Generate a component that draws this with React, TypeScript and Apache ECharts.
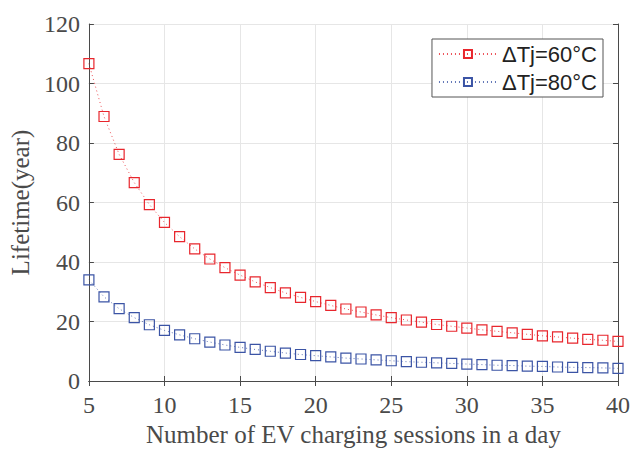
import React, { useEffect, useRef } from "react";
import * as echarts from "echarts";

const sessions = [5, 6, 7, 8, 9, 10, 11, 12, 13, 14, 15, 16, 17, 18, 19, 20, 21, 22, 23, 24, 25, 26, 27, 28, 29, 30, 31, 32, 33, 34, 35, 36, 37, 38, 39, 40];
const life60 = [106.7, 88.9, 76.2, 66.7, 59.3, 53.3, 48.5, 44.4, 41.0, 38.1, 35.6, 33.3, 31.4, 29.6, 28.1, 26.7, 25.4, 24.2, 23.2, 22.2, 21.3, 20.5, 19.8, 19.0, 18.4, 17.8, 17.2, 16.7, 16.2, 15.7, 15.2, 14.8, 14.4, 14.0, 13.7, 13.3];
const life80 = [34.0, 28.3, 24.3, 21.3, 18.9, 17.0, 15.5, 14.2, 13.1, 12.1, 11.3, 10.6, 10.0, 9.4, 8.9, 8.5, 8.1, 7.7, 7.4, 7.1, 6.8, 6.5, 6.3, 6.1, 5.9, 5.7, 5.5, 5.3, 5.2, 5.0, 4.9, 4.7, 4.6, 4.5, 4.4, 4.25];
const seriesNames = ["ΔTj=60°C", "ΔTj=80°C"];
const seriesColors = ["#e8262d", "#3b54a5"];

const serif = "'Liberation Serif', 'DejaVu Serif', serif";
const sans = "'Liberation Sans', Arial, sans-serif";
const axisColor = "#4a4a4a";
const labelColor = "#4a4a4a";

export default function App() {
  const ref = useRef<HTMLDivElement>(null);
  useEffect(() => {
    const chart = echarts.init(ref.current!, null, { renderer: "svg" });
    const data = [life60, life80];
    const axisCommon = {
      axisLine: { show: true, lineStyle: { color: axisColor, width: 1 } },
      axisTick: { show: true, inside: true, length: 5, lineStyle: { color: axisColor } },
    };
    chart.setOption({
      animation: false,
      backgroundColor: "#ffffff",
      grid: { left: 87, top: 24, right: 14, bottom: 68, containLabel: false },
      legend: {
        show: true,
        right: 30,
        top: 39,
        orient: "vertical",
        backgroundColor: "#ffffff",
        borderColor: "#555555",
        borderWidth: 1,
        padding: [4, 6, 4, 6],
        itemGap: 6,
        itemWidth: 58,
        itemHeight: 10,
        textStyle: { fontFamily: sans, fontSize: 22, color: "#222222", padding: [0, 0, 0, 0] },
        data: seriesNames,
      },
      xAxis: [
        {
          type: "value",
          min: 5,
          max: 40,
          interval: 5,
          name: "Number of EV charging sessions in a day",
          nameLocation: "middle",
          nameGap: 41,
          nameTextStyle: { fontFamily: serif, fontSize: 25, color: labelColor, verticalAlign: "top" },
          axisLabel: { fontFamily: serif, fontSize: 24, color: labelColor, margin: 12 },
          splitLine: { show: true, lineStyle: { color: "#e6e6e6", width: 1 } },
          ...axisCommon,
        },
        {
          type: "value",
          position: "top",
          min: 5,
          max: 40,
          interval: 5,
          axisLabel: { show: false },
          splitLine: { show: false },
          ...axisCommon,
        },
      ],
      yAxis: [
        {
          type: "value",
          min: 0,
          max: 120,
          interval: 20,
          name: "Lifetime(year)",
          nameLocation: "middle",
          nameGap: 52,
          nameTextStyle: { fontFamily: serif, fontSize: 25, color: labelColor },
          axisLabel: { fontFamily: serif, fontSize: 24, color: labelColor, margin: 9 },
          splitLine: { show: true, lineStyle: { color: "#e6e6e6", width: 1 } },
          ...axisCommon,
        },
        {
          type: "value",
          position: "right",
          min: 0,
          max: 120,
          interval: 20,
          axisLabel: { show: false },
          splitLine: { show: false },
          ...axisCommon,
        },
      ],
      series: data.map((vals, i) => ({
        name: seriesNames[i],
        type: "line",
        data: sessions.map((s, j) => [s, vals[j]]),
        symbol: "rect",
        symbolSize: 10,
        showSymbol: true,
        lineStyle: { color: seriesColors[i], width: 1, type: [1, 3], opacity: 0.8 },
        itemStyle: { color: "none", borderColor: seriesColors[i], borderWidth: 1.2 },
        z: 3,
      })),
    });
    return () => chart.dispose();
  }, []);
  return <div ref={ref} style={{ position: "absolute", left: 0, top: 0, width: 633, height: 452 }} />;
}
